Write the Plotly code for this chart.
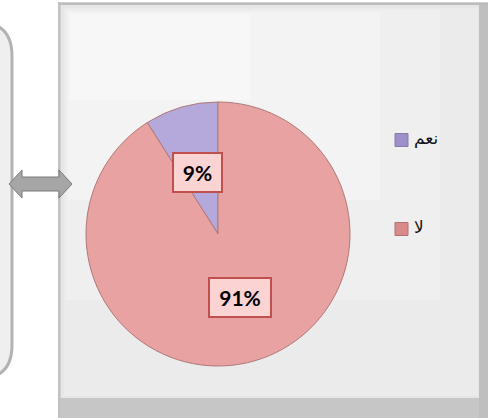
import plotly.graph_objects as go

categories = ["نعم", "لا"]
values = [9, 91]
slice_colors = ["#b5a9db", "#e8a2a2"]
legend_colors = ["#9d8fc9", "#d98b8b"]

W, H = 488, 418

def px(x):
    return x / W

def py(y):
    return 1 - y / H

fig = go.Figure()

total = sum(values)
cx, cy, r = 218, 234, 132
fig.add_trace(go.Pie(
    labels=categories,
    values=values,
    sort=False,
    direction="clockwise",
    rotation=-360 * values[0] / total,
    marker=dict(colors=slice_colors, line=dict(color="#b07878", width=1)),
    textinfo="none",
    hoverinfo="label+percent",
    showlegend=False,
    domain=dict(x=[px(cx - r), px(cx + r)], y=[py(cy + r), py(cy - r)]),
))

shapes = []

def rect(x0, y0, x1, y1, fill, line=None, lw=0, layer="below"):
    shapes.append(dict(type="rect", xref="paper", yref="paper",
                       x0=px(x0), x1=px(x1), y0=py(y1), y1=py(y0),
                       fillcolor=fill, line=dict(color=line or fill, width=lw),
                       layer=layer))

def rounded_path(x0, y0, x1, y1, rad):
    return (f"M {px(x0)},{py(y0)} L {px(x1-rad)},{py(y0)} "
            f"Q {px(x1)},{py(y0)} {px(x1)},{py(y0+rad)} "
            f"L {px(x1)},{py(y1-rad)} "
            f"Q {px(x1)},{py(y1)} {px(x1-rad)},{py(y1)} "
            f"L {px(x0)},{py(y1)} Z")

shapes.append(dict(type="path", xref="paper", yref="paper",
                   path=rounded_path(-40, 22, 12, 379, 34),
                   fillcolor="#efefef", line=dict(color="#b3b3b3", width=3),
                   layer="below"))

# frame
rect(58, 2, 488, 418, "#d0d0d0")
rect(61, 5, 483, 399, "#e6e6e6")
rect(64, 8, 478, 396, "#ebebeb")
rect(66, 10, 440, 300, "#efefef")
rect(68, 12, 380, 200, "#f3f3f3")
rect(70, 14, 250, 100, "#f7f7f7")
rect(58, 398, 488, 418, "#c6c6c6")
rect(479, 5, 488, 418, "#bfbfbf")
shapes.append(dict(type="line", xref="paper", yref="paper",
                   x0=px(58), x1=px(488), y0=py(4), y1=py(4),
                   line=dict(color="#bcbcbc", width=2), layer="below"))
shapes.append(dict(type="line", xref="paper", yref="paper",
                   x0=px(59), x1=px(59), y0=py(2), y1=py(418),
                   line=dict(color="#c2c2c2", width=2), layer="below"))

# double-headed arrow
ay = 184
arrow = (f"M {px(9)},{py(ay)} L {px(22)},{py(ay-14)} L {px(22)},{py(ay-7)} "
         f"L {px(59)},{py(ay-7)} L {px(59)},{py(ay-14)} L {px(72)},{py(ay)} "
         f"L {px(59)},{py(ay+14)} L {px(59)},{py(ay+7)} L {px(22)},{py(ay+7)} "
         f"L {px(22)},{py(ay+14)} Z")
shapes.append(dict(type="path", xref="paper", yref="paper", path=arrow,
                   fillcolor="#a6a6a6", line=dict(color="#7a7a7a", width=1),
                   layer="above"))

# legend squares
leg_y = [140, 229]
leg_lines = ["#8a7aa8", "#b07070"]
for c, lc, yy in zip(legend_colors, leg_lines, leg_y):
    rect(395, yy - 6.5, 408, yy + 6.5, c, line=lc, lw=1, layer="above")

annotations = []
for name, yy in zip(categories, leg_y):
    annotations.append(dict(xref="paper", yref="paper", x=px(412), y=py(yy - 2),
                            xanchor="left", yanchor="middle", text=name,
                            showarrow=False,
                            font=dict(family="DejaVu Sans", size=17, color="#111111")))

label_pos = [(197.5, 172.5), (240, 297.5)]
label_w = [47, 60]
for v, (lx, ly), w in zip(values, label_pos, label_w):
    annotations.append(dict(xref="paper", yref="paper", x=px(lx), y=py(ly),
                            xanchor="center", yanchor="middle",
                            text=f"<b>{round(100 * v / total)}%</b>",
                            showarrow=False, width=w, height=37,
                            bgcolor="#fbd3d3", bordercolor="#c0504d",
                            borderwidth=2, borderpad=0,
                            font=dict(family="Lato", size=21, color="#000000")))

fig.update_layout(
    width=W, height=H,
    margin=dict(l=0, r=0, t=0, b=0),
    paper_bgcolor="white",
    plot_bgcolor="white",
    shapes=shapes,
    annotations=annotations,
    showlegend=False,
)

fig.write_html("out.html",
               config={"displayModeBar": False},
               post_script="document.body.style.margin='0px';document.body.style.overflow='hidden';")
